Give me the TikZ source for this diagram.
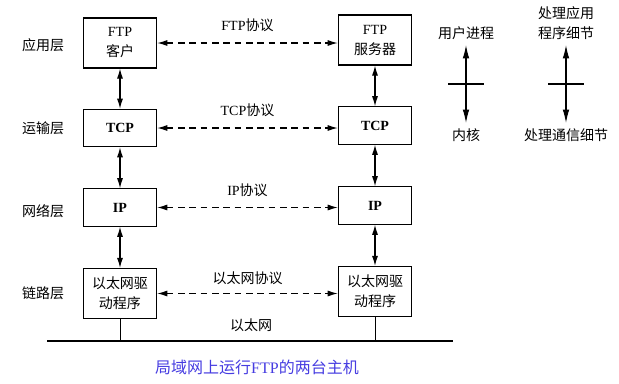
\documentclass[tikz,border=0pt]{standalone}
\usepackage{fontspec}
\setmainfont{Liberation Serif}
\newfontfamily\cjk{Noto Sans CJK SC}
\usetikzlibrary{arrows.meta, positioning}

\begin{document}
\begin{tikzpicture}[
    x=0.75pt, y=-0.75pt,
    font=\fontsize{10.5}{15}\selectfont,
    box/.style={
      draw=black, line width=0.9pt,
      minimum width=55pt, minimum height=28pt,
      align=center, inner sep=2pt
    },
    tall/.style={box, minimum height=37.5pt},
    lbl/.style={font=\cjk\fontsize{10.5}{15}\selectfont, inner sep=2pt, align=center},
    link/.style={{Latex[length=7.5pt,width=4.5pt]}-{Latex[length=7.5pt,width=4.5pt]}, line width=0.8pt},
    peer/.style={link, dash pattern=on 5pt off 3.5pt},
    legend/.style={{Latex[length=10pt,width=5pt]}-{Latex[length=10pt,width=5pt]}, line width=0.8pt}
  ]
  \useasboundingbox (0,0) rectangle (619,383);

  % layer names
  \node[lbl] (app)  at (43,45)  {应用层};
  \node[lbl] (tran) at (43,128) {运输层};
  \node[lbl] (net)  at (43,211) {网络层};
  \node[lbl] (link) at (43,293) {链路层};

  % client host
  \node[tall] (client) at (120,43)    {FTP\\{\cjk 客户}};
  \node[box]  (ltcp)   at (120,128)   {\textbf{TCP}};
  \node[box]  (lip)    at (120,207.5) {\textbf{IP}};
  \node[tall, font=\cjk\fontsize{10.5}{15}\selectfont] (leth) at (120,293.5) {以太网驱\\动程序};

  % server host
  \node[tall] (server) at (375,40)    {FTP\\{\cjk 服务器}};
  \node[box]  (rtcp)   at (375,125.5) {\textbf{TCP}};
  \node[box]  (rip)    at (375,205.5) {\textbf{IP}};
  \node[tall, font=\cjk\fontsize{10.5}{15}\selectfont] (reth) at (375,291.5) {以太网驱\\动程序};

  \draw[link] (client) -- (ltcp);
  \draw[link] (ltcp) -- (lip);
  \draw[link] (lip) -- (leth);
  \draw[link] (server) -- (rtcp);
  \draw[link] (rtcp) -- (rip);
  \draw[link] (rip) -- (reth);

  % peer protocols
  \draw[peer] (client.east) -- node[above=5pt] {FTP{\cjk 协议}} (client.east -| server.west);
  \draw[peer] (ltcp.east) -- node[above=5pt] {TCP{\cjk 协议}} (ltcp.east -| rtcp.west);
  \draw[peer] (lip.east) -- node[above=4pt] {IP{\cjk 协议}} (lip.east -| rip.west);
  \draw[peer] (leth.east) -- node[lbl, above=4pt] {以太网协议} (leth.east -| reth.west);

  % ethernet
  \coordinate (ethL) at (47,341);
  \coordinate (ethR) at (453,341);
  \draw[line width=2.2pt] (ethL) -- (ethR);
  \draw[line width=0.6pt] (leth.south) -- (leth.south |- ethL);
  \draw[line width=0.6pt] (reth.south) -- (reth.south |- ethL);
  \node[lbl] (ethname) at (251,325) {以太网};

  % legend
  \node[lbl] (user)   at (466,33)  {用户进程};
  \node[lbl] (kernel) at (466,135) {内核};
  \draw[legend, shorten <=2pt, shorten >=2pt] (user) -- coordinate (umid) (kernel);
  \draw[line width=0.8pt] ([xshift=-13.5pt]umid) -- ([xshift=13.5pt]umid);

  \node[lbl] (appdet) at (566,23)  {处理应用\\程序细节};
  \node[lbl] (comdet) at (566,135) {处理通信细节};
  \draw[legend, shorten <=2pt, shorten >=2pt] (appdet) -- coordinate (cmid) (comdet);
  \draw[line width=0.8pt] ([xshift=-13.5pt]cmid|-umid) -- ([xshift=13.5pt]cmid|-umid);

  % caption
  \node[lbl, font=\cjk\fontsize{12}{15}\selectfont, text={rgb,255:red,70;green,60;blue,225}] (caption) at (257,367)
    {局域网上运行{\rmfamily FTP}的两台主机};
\end{tikzpicture}
\end{document}
